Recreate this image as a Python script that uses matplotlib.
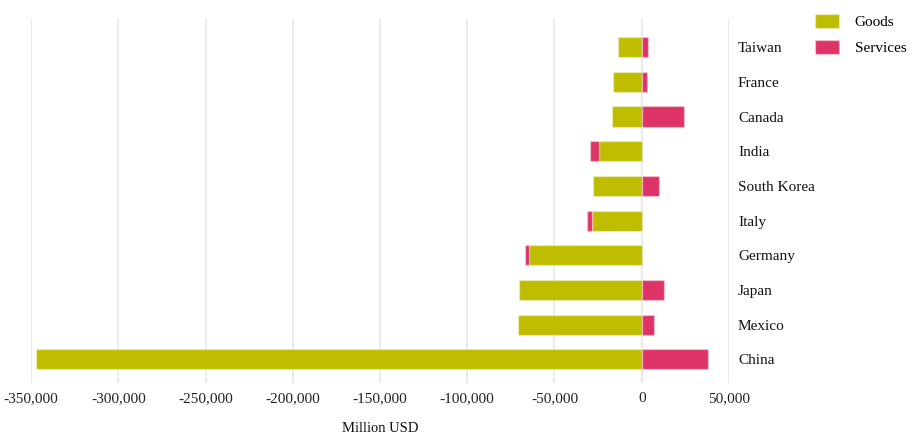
import matplotlib.pyplot as plt
from matplotlib.ticker import FuncFormatter

plt.rcParams['font.family'] = ['Liberation Serif', 'DejaVu Serif']

countries = ['China', 'Mexico', 'Japan', 'Germany', 'Italy',
             'South Korea', 'India', 'Canada', 'France', 'Taiwan']
goods = [-347100, -70900, -70300, -64800, -28700,
         -28200, -24500, -16800, -16300, -13400]
services = [37700, 6900, 13000, -1900, -2500,
            9800, -5200, 24000, 3050, 3850]

goods_color = '#bfbd00'
services_color = '#dd3366'

fig = plt.figure(figsize=(9.15, 4.43), dpi=100)
ax = fig.add_axes([0.0339, 0.1354, 0.7628, 0.8216])

ypos = list(range(len(countries)))
# services stack on the goods bar when both are negative
svc_left = [g if s < 0 else 0 for g, s in zip(goods, services)]

ax.barh(ypos, goods, height=0.58, color=goods_color,
        edgecolor=(1, 1, 1, 0.35), linewidth=1, label='Goods', zorder=2)
ax.barh(ypos, services, left=svc_left, height=0.58, color=services_color,
        edgecolor=(1, 1, 1, 0.35), linewidth=1, label='Services', zorder=2)

ax.set_xlim(-350000, 50000)
ax.set_ylim(-0.68, 9.81)
ax.set_xticks(range(-350000, 50001, 50000))
ax.xaxis.set_major_formatter(FuncFormatter(lambda v, p: f'{int(v):,}'))
ax.grid(axis='x', color='#e6e6e6', linewidth=1.2, zorder=0)

ax.set_yticks(ypos)
ax.set_yticklabels(countries)
ax.yaxis.tick_right()
ax.tick_params(axis='y', length=0, pad=6.5, labelsize=11)
ax.tick_params(axis='x', length=0, pad=6.5, labelsize=11, colors='#222222')
for lbl in ax.get_yticklabels():
    lbl.set_color('#111111')

for s in ax.spines.values():
    s.set_visible(False)

ax.set_xlabel('Million USD', fontsize=10.5, labelpad=12, color='#111111')

fig.legend(loc='upper left', bbox_to_anchor=(0.884, 0.983), frameon=False,
           fontsize=11, handlelength=1.6, handleheight=1.05,
           handletextpad=1.0, labelspacing=0.7, borderaxespad=0)

fig.savefig('out.png', dpi=100)
